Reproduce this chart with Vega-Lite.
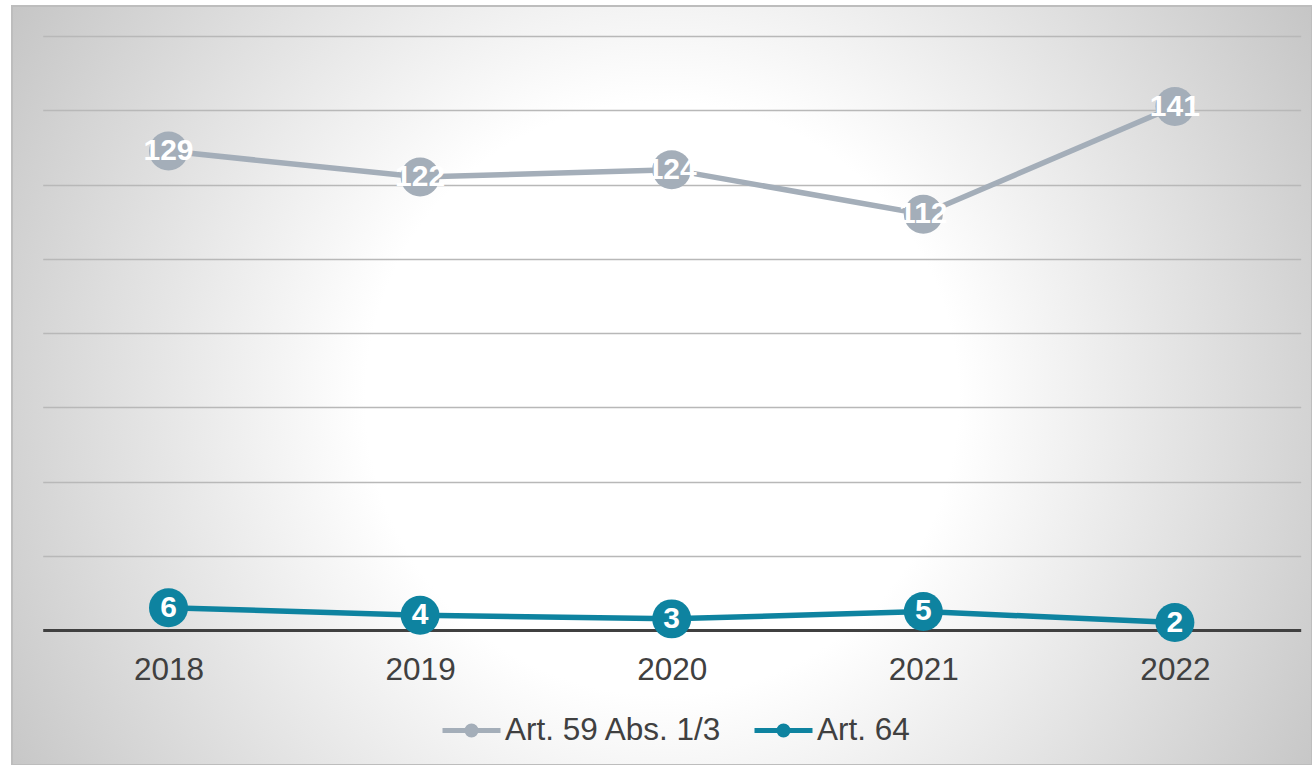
{
  "$schema": "https://vega.github.io/schema/vega-lite/v6.json",
  "width": 1300,
  "height": 759,
  "autosize": {"type": "none"},
  "padding": {"left": 12, "top": 6, "right": 0, "bottom": 0},
  "background": "#ffffff",
  "view": {
    "fill": {
      "gradient": "radial",
      "x1": 0.5, "y1": 0.51, "r1": 0,
      "x2": 0.5, "y2": 0.51, "r2": 0.6,
      "stops": [
        {"offset": 0, "color": "#ffffff"},
        {"offset": 0.38, "color": "#ffffff"},
        {"offset": 1, "color": "#c3c3c3"}
      ]
    },
    "stroke": "#bdbdbd",
    "strokeWidth": 2
  },
  "config": {"font": "Liberation Sans"},
  "data": {
    "values": [
      {"year": "2018", "series": "Art. 59 Abs. 1/3", "value": 129},
      {"year": "2019", "series": "Art. 59 Abs. 1/3", "value": 122},
      {"year": "2020", "series": "Art. 59 Abs. 1/3", "value": 124},
      {"year": "2021", "series": "Art. 59 Abs. 1/3", "value": 112},
      {"year": "2022", "series": "Art. 59 Abs. 1/3", "value": 141},
      {"year": "2018", "series": "Art. 64", "value": 6},
      {"year": "2019", "series": "Art. 64", "value": 4},
      {"year": "2020", "series": "Art. 64", "value": 3},
      {"year": "2021", "series": "Art. 64", "value": 5},
      {"year": "2022", "series": "Art. 64", "value": 2}
    ]
  },
  "encoding": {
    "x": {
      "field": "year", "type": "nominal",
      "scale": {"paddingInner": 0, "paddingOuter": 0, "range": [30.7, 1288.7]},
      "axis": {"offset": -135, "domain": false, "ticks": false, "grid": false, "title": null, "labelFontSize": 31.5, "labelColor": "#404040", "labelPadding": 24, "labelAngle": 0}
    },
    "y": {
      "field": "value", "type": "quantitative",
      "scale": {"domain": [-36.36, 168.08], "nice": false, "zero": false},
      "axis": {
        "values": [0, 20, 40, 60, 80, 100, 120, 140, 160],
        "title": null, "labels": false, "ticks": false, "domain": false, "grid": true,
        "gridColor": {"condition": {"test": "datum.value === 0", "value": "#404040"}, "value": "#b8b8b8"},
        "gridWidth": {"condition": {"test": "datum.value === 0", "value": 3}, "value": 1.5}
      }
    }
  },
  "layer": [
    {
      "mark": {"type": "line", "strokeWidth": 5.5},
      "encoding": {
        "color": {
          "field": "series", "type": "nominal",
          "scale": {"domain": ["Art. 59 Abs. 1/3", "Art. 64"], "range": ["#a4aeb9", "#0e83a0"]},
          "legend": {
            "orient": "none", "legendX": 428, "legendY": 693, "direction": "horizontal", "title": null,
            "symbolType": "M-1,0L1,0M0.155,0A0.155,0.155,0,1,1,-0.155,0A0.155,0.155,0,1,1,0.155,0Z",
            "symbolSize": 3364, "symbolStrokeWidth": 5,
            "labelFontSize": 31.5, "labelColor": "#404040",
            "labelOffset": 2, "columnPadding": 21, "labelLimit": 400
          }
        }
      }
    },
    {
      "mark": {"type": "circle", "size": 1520, "opacity": 1},
      "encoding": {
        "color": {"field": "series", "type": "nominal"}
      }
    },
    {
      "mark": {"type": "text", "fontSize": 30, "fontWeight": "bold", "color": "#ffffff", "align": "center", "baseline": "middle"},
      "encoding": {
        "text": {"field": "value", "type": "quantitative"}
      }
    }
  ]
}
